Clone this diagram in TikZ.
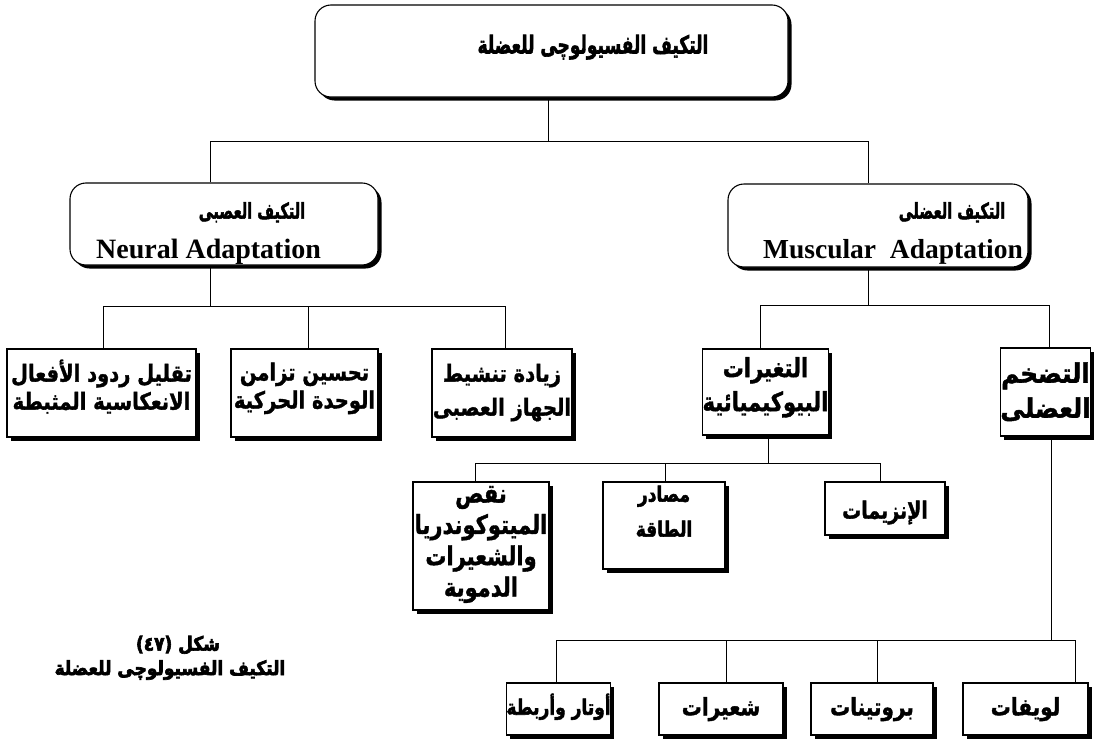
\documentclass[tikz,border=0pt]{standalone}
\usepackage{fontspec}
\usepackage{graphicx}
\setmainfont{Liberation Serif}
\newfontfamily\arfont[Script=Arabic, BoldFeatures={FakeBold=1.5}]{DejaVu Sans}
\newfontfamily\arheavy[Script=Arabic, BoldFeatures={FakeBold=2.5}]{DejaVu Sans}
\newfontfamily\arblack[Script=Arabic, BoldFeatures={FakeBold=3.5}]{DejaVu Sans}
\TeXXeTstate=1
\usetikzlibrary{shadows}
% Arabic line, stretched vertically
\newcommand\ART[2][1.2]{\scalebox{1}[#1]{\beginR #2\endR}}
% text block: raise, size, baselineskip, rows
\newcommand\TX[4]{\raisebox{#1pt}[0pt][0pt]{\fontsize{#2}{#3}\selectfont\begin{tabular}{@{}c@{}}#4\end{tabular}}}
\begin{document}
\begin{tikzpicture}[x=1pt,y=-1pt,
  base/.style={draw=black, line width=1.1pt, fill=white, inner sep=0pt,
     general shadow={fill=black, shadow xshift=3.5pt, shadow yshift=-3.5pt}},
  roundbox/.style={base, rounded corners=16pt},
  sqbox/.style={base, font=\arfont\bfseries},
  captext/.style={font=\arblack\bfseries\fontsize{17}{20}\selectfont, inner sep=0pt},
  link/.style={draw=black, line width=0.9pt}]
\path[fill=white, use as bounding box] (0,0) rectangle (1103,744);

% level 0
\node[roundbox, minimum width=473pt, minimum height=92pt,
      font=\arheavy\bfseries\fontsize{17}{24}\selectfont] (top) at (551.5,51)
      {\raisebox{-2.5pt}[0pt][0pt]{\hspace*{83pt}\ART[1.45]{التكيف الفسيولوچى للعضلة}}};

% level 1
\node[roundbox, minimum width=308pt, minimum height=82pt] (neural) at (224,224)
  {\TX{-11}{17}{40}{\hspace*{56pt}{\arheavy\bfseries\fontsize{14.5}{40}\selectfont\ART[1.5]{التكيف العصبى}}\\
     {\bfseries\fontsize{28}{40}\selectfont Neural Adaptation}\hspace*{31pt}}};
\node[roundbox, minimum width=300pt, minimum height=83pt] (muscular) at (878,225.5)
  {\TX{-9.5}{17}{40}{\hspace*{148pt}{\arheavy\bfseries\fontsize{14.5}{40}\selectfont\ART[1.5]{التكيف العضلى}}\\
     \hspace*{30pt}{\bfseries\fontsize{27.5}{40}\selectfont Muscular\ \ Adaptation}}};

% level 2 neural
\node[sqbox, minimum width=189pt, minimum height=88pt] (n1) at (101.5,393)
  {\TX{-1}{19.5}{28}{\ART{تقليل ردود الأفعال}\\\ART{الانعكاسية المثبطة}}};
\node[sqbox, minimum width=147pt, minimum height=88pt] (n2) at (304.5,393)
  {\TX{-1}{19.5}{28}{\ART{تحسين تزامن}\\\ART{الوحدة الحركية}}};
\node[sqbox, minimum width=140pt, minimum height=88pt] (n3) at (502,393)
  {\TX{-4}{19.5}{34}{\ART{زيادة تنشيط}\\\ART{الجهاز العصبى}}};

% level 2 muscular
\node[sqbox, minimum width=125pt, minimum height=86pt] (bio) at (765.5,392)
  {\TX{-0.5}{21}{34}{\ART[1.25]{التغيرات}\\\ART[1.25]{البيوكيميائية}}};
\node[sqbox, minimum width=89pt, minimum height=88pt] (hyp) at (1045.5,392)
  {\TX{-7.5}{24.5}{35}{\ART[1.1]{التضخم}\\\ART[1.1]{العضلى}}};

% level 3 biochemical
\node[sqbox, minimum width=136pt, minimum height=128pt] (c1) at (481,546)
  {\TX{-2.5}{21}{31.3}{\ART[1.25]{نقص}\\\ART[1.25]{الميتوكوندريا}\\\ART[1.25]{والشعيرات}\\\ART[1.25]{الدموية}}};
\node[sqbox, minimum width=122pt, minimum height=87pt, font=\arheavy\bfseries] (c2) at (664,525.5)
  {\TX{9}{17}{35}{\ART[1.25]{مصادر}\\\ART[1.25]{الطاقة}}};
\node[sqbox, minimum width=120pt, minimum height=53pt] (c3) at (885,508.5)
  {\TX{-8.5}{19}{30}{\ART[1.25]{الإنزيمات}}};

% level 3 hypertrophy
\node[sqbox, minimum width=101pt, minimum height=52pt, font=\arheavy\bfseries] (d1) at (558.5,709) {\TX{-4}{17}{30}{\ART[1.25]{أوتار وأربطة}}};
\node[sqbox, minimum width=124pt, minimum height=52pt] (d2) at (721,709) {\TX{-5.5}{20}{30}{\ART{شعيرات}}};
\node[sqbox, minimum width=122pt, minimum height=52pt] (d3) at (872,709) {\TX{-5.5}{20}{30}{\ART{بروتينات}}};
\node[sqbox, minimum width=125pt, minimum height=52pt] (d4) at (1025.5,709) {\TX{-5.5}{20}{30}{\ART{لويفات}}};

% caption
\node[captext] (cap1) at (178,645) {\ART[1.15]{شكل (٤٧)}};
\node[captext] (cap2) at (170,670) {\ART[1.15]{التكيف الفسيولوچى للعضلة}};

% connectors
\draw[link] ([xshift=-3.5pt]top.south) -- ++(0,44) coordinate (tj);
\draw[link] ([xshift=-14pt]neural.north) |- (tj) -| ([xshift=-10pt]muscular.north);

\draw[link] ([xshift=-14pt]neural.south) -- ++(0,41) coordinate (nj);
\draw[link] ([xshift=1.5pt]n1.north) |- (nj) -| ([xshift=3pt]n3.north);
\draw[link] ([xshift=3.5pt]n2.north) -- ([xshift=3.5pt]n2.north |- nj);

\draw[link] ([xshift=-10pt]muscular.south) -- ++(0,38) coordinate (mj);
\draw[link] ([xshift=-5.5pt]bio.north) |- (mj) -| ([xshift=3.5pt]hyp.north);

\draw[link] ([xshift=2.5pt]bio.south) -- ++(0,28) coordinate (bj);
\draw[link] ([xshift=-6pt]c1.north) |- (bj) -| ([xshift=-5pt]c3.north);
\draw[link] ([xshift=1pt]c2.north) -- ([xshift=1pt]c2.north |- bj);

\draw[link] ([xshift=5.5pt]hyp.south) -- ++(0,204) coordinate (hj);
\draw[link] ([xshift=-2.5pt]d1.north) |- (hj) -| ([xshift=49.5pt]d4.north);
\draw[link] ([xshift=5pt]d2.north) -- ([xshift=5pt]d2.north |- hj);
\draw[link] ([xshift=5pt]d3.north) -- ([xshift=5pt]d3.north |- hj);
\end{tikzpicture}
\end{document}
